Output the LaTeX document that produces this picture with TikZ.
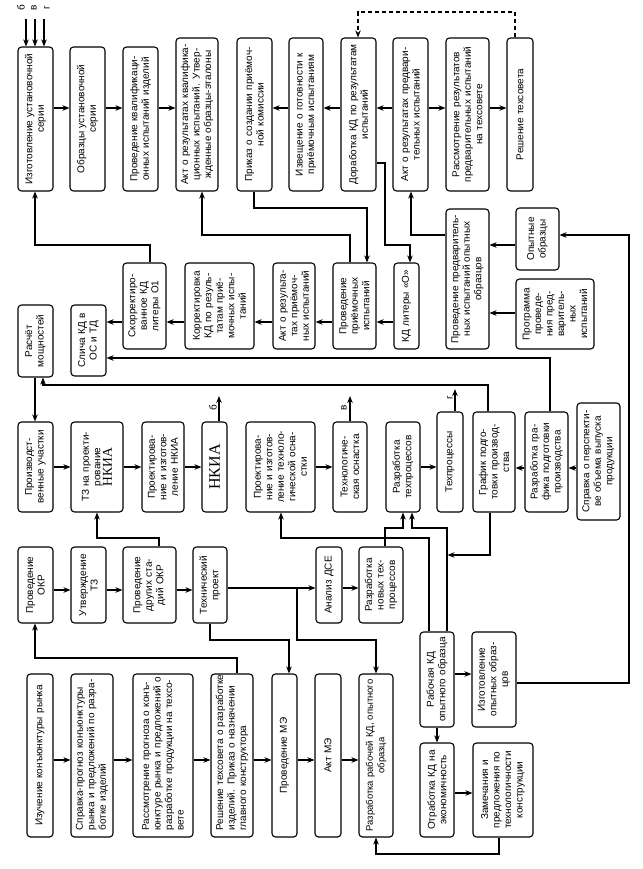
\documentclass[tikz,border=0pt]{standalone}
\usepackage{fontspec}
\setmainfont{Liberation Sans}
\newfontfamily\serifnk{Liberation Serif}
\usetikzlibrary{arrows.meta}
\begin{document}
\begin{tikzpicture}[x=1pt,y=-1pt,
  box/.style={draw, line width=1.1pt, rounded corners=3.5pt, rotate=90, align=center, inner sep=1pt, font=\fontsize{10}{11.5}\selectfont},
  arr/.style={line width=1.1pt, -{Stealth[length=7pt,width=5.5pt]}},
  dsh/.style={dash pattern=on 4pt off 3pt},
  lbl/.style={rotate=90, inner sep=0pt, font=\fontsize{10}{11}\selectfont}]
\useasboundingbox[fill=white] (0,0) rectangle (642,869);

% ---- top row
\node[box, minimum width=144pt, minimum height=35pt, text width=138pt] (n1) at (35.5,119) {Изготовление установочной\\серии};
\node[box, minimum width=144pt, minimum height=35pt, text width=138pt] (n2) at (87.5,119) {Образцы установочной\\серии};
\node[box, minimum width=144pt, minimum height=35pt, text width=138pt] (n3) at (140.5,119) {Проведение квалификаци-\\онных испытаний изделий};
\node[box, minimum width=153pt, minimum height=42pt, text width=147pt] (n4) at (197,114.5) {Акт о результатах квалифика-\\ционных испытаний. Утвер-\\жденные образцы-эталоны};
\node[box, minimum width=153pt, minimum height=35pt, text width=147pt] (n5) at (254.5,114.5) {Приказ о создании приёмоч-\\ной комиссии};
\node[box, minimum width=153pt, minimum height=34pt, text width=147pt] (n6) at (306,114.5) {Извещение о готовности к\\приёмочным испытаниям};
\node[box, minimum width=153pt, minimum height=35pt, text width=147pt] (n7) at (358.5,114.5) {Доработка КД по результатам\\испытаний};
\node[box, minimum width=153pt, minimum height=35pt, text width=147pt] (n8) at (410.5,114.5) {Акт о результатах предвари-\\тельных испытаний};
\node[box, minimum width=153pt, minimum height=43pt, text width=147pt] (n9) at (467.5,114.5) {Рассмотрение результатов\\предварительных испытаний\\на техсовете};
\node[box, minimum width=153pt, minimum height=26pt, text width=147pt] (n10) at (520,114.5) {Решение техсовета};

% ---- second band
\node[box, minimum width=86pt, minimum height=43pt, text width=80pt] (m1) at (144.5,306) {Скорректиро-\\ванное КД\\литеры О1};
\node[box, minimum width=86pt, minimum height=69pt, text width=80pt] (m2) at (219.5,306) {Корректировка\\КД по резуль-\\татам приё-\\мочных испы-\\таний};
\node[box, minimum width=86pt, minimum height=42pt, text width=80pt] (m3) at (294,306) {Акт о результа-\\тах приёмоч-\\ных испытаний};
\node[box, minimum width=86pt, minimum height=43pt, text width=80pt] (m4) at (354.5,306) {Проведение\\приёмочных\\испытаний};
\node[box, minimum width=86pt, minimum height=25pt, text width=80pt] (m5) at (406.5,306) {КД литеры «О»};
\node[box, minimum width=140pt, minimum height=43pt, text width=134pt] (m6) at (467.5,279) {Проведение предваритель-\\ных испытаний опытных\\образцов};
\node[box, minimum width=62pt, minimum height=43pt, text width=56pt] (m7) at (537.5,239) {Опытные\\образцы};
\node[box, minimum width=70pt, minimum height=78pt, text width=64pt] (m8) at (555,314) {Программа\\проведе-\\ния пред-\\варитель-\\ных\\испытаний};

\node[box, minimum width=72pt, minimum height=35pt, text width=66pt] (r0) at (35.5,341) {Расчёт\\мощностей};
\node[box, minimum width=71pt, minimum height=35pt, text width=65pt] (r1) at (88.5,340.5) {Слича КД в\\ОС и ТД};

% ---- third band
\node[box, minimum width=90pt, minimum height=35pt, text width=84pt] (p1) at (35.5,467) {Производст-\\венные участки};
\node[box, minimum width=90pt, minimum height=52pt, text width=84pt] (p2) at (97,467) {ТЗ на проекти-\\рование\\{\serifnk\fontsize{13.5}{14}\selectfont НКИА}};
\node[box, minimum width=90pt, minimum height=42pt, text width=84pt] (p3) at (163,467) {Проектирова-\\ние и изготов-\\ление НКИА};
\node[box, minimum width=90pt, minimum height=25pt, text width=84pt, font=\serifnk\fontsize{16}{17}\selectfont] (p4) at (214.5,467) {НКИА};
\node[box, minimum width=90pt, minimum height=69pt, text width=84pt] (p5) at (280.5,467) {Проектирова-\\ние и изготов-\\ление техноло-\\гической осна-\\стки};
\node[box, minimum width=90pt, minimum height=34pt, text width=84pt] (p6) at (350,467) {Технологиче-\\ская оснастка};
\node[box, minimum width=90pt, minimum height=34pt, text width=84pt] (p7) at (403,467) {Разработка\\техпроцессов};
\node[box, minimum width=100pt, minimum height=26pt, text width=94pt] (p8) at (450,462) {Техпроцессы};
\node[box, minimum width=100pt, minimum height=42pt, text width=94pt] (p9) at (494,462) {График подго-\\товки производ-\\ства};
\node[box, minimum width=100pt, minimum height=43pt, text width=94pt] (p10) at (546.5,462) {Разработка гра-\\фика подготовки\\производства};
\node[box, minimum width=117pt, minimum height=43pt, text width=111pt] (p11) at (598.5,461.5) {Справка о перспекти-\\ве объема выпуска\\продукции};

% ---- fourth band
\node[box, minimum width=76pt, minimum height=35pt, text width=70pt] (q1) at (35.5,585) {Проведение\\ОКР};
\node[box, minimum width=76pt, minimum height=35pt, text width=70pt] (q2) at (88.5,585) {Утверждение\\ТЗ};
\node[box, minimum width=76pt, minimum height=53pt, text width=70pt] (q3) at (149.5,585) {Проведение\\других ста-\\дий ОКР};
\node[box, minimum width=76pt, minimum height=34pt, text width=70pt] (q4) at (210,585) {Технический\\проект};
\node[box, minimum width=76pt, minimum height=26pt, text width=70pt] (q5) at (329,585) {Анализ ДСЕ};
\node[box, minimum width=76pt, minimum height=44pt, text width=70pt] (q6) at (381,585) {Разработка\\новых тех-\\процессов};

\node[box, minimum width=95pt, minimum height=34pt, text width=89pt] (s1) at (437,679.5) {Рабочая КД\\опытного образца};
\node[box, minimum width=95pt, minimum height=44pt, text width=89pt] (s2) at (494,679.5) {Изготовление\\опытных образ-\\цов};
\node[box, minimum width=94pt, minimum height=34pt, text width=88pt] (s3) at (437,790) {Отработка КД на\\экономичность};
\node[box, minimum width=94pt, minimum height=60pt, text width=88pt] (s4) at (503,790) {Замечания и\\предложения по\\технологичности\\конструкции};

% ---- bottom band
\node[box, minimum width=163pt, minimum height=26pt, text width=155pt] (t1) at (40,755.5) {Изучение конъюнктуры рынка};
\node[box, minimum width=163pt, minimum height=42pt, text width=150pt] (t2) at (92,755.5) {\makebox[150pt][s]{Справка-прогноз конъюнктуры}\\\makebox[150pt][s]{рынка и предложений по разра-}\\\makebox[150pt][l]{ботке изделий}};
\node[box, minimum width=163pt, minimum height=60pt, text width=150pt] (t3) at (163,755.5) {\makebox[150pt][s]{Рассмотрение прогноза о конъ-}\\\makebox[150pt][s]{юнктуре рынка и предложений о}\\\makebox[150pt][s]{разработке продукции на техсо-}\\\makebox[150pt][l]{вете}};
\node[box, minimum width=163pt, minimum height=42pt, text width=150pt] (t4) at (232,755.5) {\makebox[150pt][s]{Решение техсовета о разработке}\\\makebox[150pt][s]{изделий. Приказ о назначении}\\\makebox[150pt][l]{главного конструктора}};
\node[box, minimum width=163pt, minimum height=25pt, text width=155pt] (t5) at (284.5,755.5) {Проведение МЭ};
\node[box, minimum width=163pt, minimum height=26pt, text width=155pt] (t6) at (328,755.5) {Акт МЭ};
\node[box, minimum width=163pt, minimum height=34pt, text width=158pt, font=\fontsize{9.5}{11.5}\selectfont] (t7) at (376,755.5) {Разработка рабочей КД, опытного\\образца};

% ---- labels б в г
\coordinate (ia) at (26,19);
\coordinate (ib) at (35,19);
\coordinate (ic) at (44,19);
\node[lbl] (la) at (21,8) {б};
\node[lbl] (lb) at (34,8) {в};
\node[lbl] (lc) at (47,8) {г};
\draw[arr] (ia) -- (n1.east -| 26,0);
\draw[arr] (ib) -- (n1.east -| 35,0);
\draw[arr] (ic) -- (n1.east -| 44,0);

\coordinate (ob) at (219,396);
\coordinate (ov) at (350,396);
\coordinate (og) at (455,389);
\node[lbl] (lob) at (213,408) {б};
\node[lbl] (lov) at (344,408) {в};
\node[lbl] (log) at (450,398) {г};
\draw[arr] (p4.east -| 219,0) -- (ob);
\draw[arr] (p6.east -| 350,0) -- (ov);
\draw[arr] (p8.east -| 455,0) -- (og);

% ---- top row connectors
\draw[arr] (n1.south |- 0,108) -- (n2.north |- 0,108);
\draw[arr] (n2.south |- 0,108) -- (n3.north |- 0,108);
\draw[arr] (n3.south |- 0,108) -- (n4.north |- 0,108);
\draw[arr] (n8.south |- 0,108) -- (n9.north |- 0,108);
\draw[arr] (n9.south |- 0,108) -- (n10.north |- 0,108);
\draw[arr] (n8.north |- 0,108) -- (n7.south |- 0,108);
\draw[arr] (n7.north |- 0,108) -- (n6.south |- 0,108);
\draw[arr] (n6.north |- 0,108) -- (n5.south |- 0,108);
\draw[arr, dsh] (n10.east -| 515,0) -- (515,12) -- (358,12) -- (n7.east -| 358,0);

\draw[arr] (n7.south |- 0,163) -- (385,163) -- (385,245) -- (410,245) -- (m5.east -| 410,0);
\draw[arr] (m6.north |- 0,235) -- (411,235) -- (n8.west -| 411,0);
\draw[arr] (n5.west -| 254,0) -- (254,208) -- (367,208) -- (m4.east -| 367,0);
\draw[arr] (m4.east -| 350,0) -- (350,235) -- (202,235) -- (n4.west -| 202,0);
\draw[arr] (m1.east -| 150,0) -- (150,245) -- (35,245) -- (n1.west -| 35,0);

% ---- second band connectors
\draw[arr] (m5.north |- 0,322) -- (m4.south |- 0,322);
\draw[arr] (m4.north |- 0,322) -- (m3.south |- 0,322);
\draw[arr] (m3.north |- 0,322) -- (m2.south |- 0,322);
\draw[arr] (m2.north |- 0,322) -- (m1.south |- 0,322);
\draw[arr] (m1.north |- 0,322) -- (r1.south |- 0,322);
\draw[arr] (m7.north |- 0,245) -- (m6.south |- 0,245);
\draw[arr] (m8.north |- 0,313) -- (m6.south |- 0,313);
\draw[arr] (s2.south |- 0,683) -- (629,683) -- (629,235) -- (m7.south |- 0,235);
\draw[arr] (p10.east -| 550,0) -- (550,358) -- (r1.south |- 0,358);
\draw[arr] (p9.east -| 488,0) -- (488,385) -- (43,385) -- (r0.west -| 43,0);
\draw[arr] (r0.west -| 35,0) -- (p1.east -| 35,0);

% ---- third band connectors
\draw[arr] (p1.south |- 0,467) -- (p2.north |- 0,467);
\draw[arr] (p2.south |- 0,467) -- (p3.north |- 0,467);
\draw[arr] (p3.south |- 0,467) -- (p4.north |- 0,467);
\draw[arr] (p5.south |- 0,467) -- (p6.north |- 0,467);
\draw[arr] (p7.south |- 0,467) -- (p8.north |- 0,467);
\draw[arr] (p11.north |- 0,468) -- (p10.south |- 0,468);
\draw[arr] (p10.north |- 0,468) -- (p9.south |- 0,468);

% ---- fourth band connectors
\draw[arr] (q3.east -| 159,0) -- (159,538) -- (97,538) -- (p2.west -| 97,0);
\draw[arr] (q1.south |- 0,590) -- (q2.north |- 0,590);
\draw[arr] (q2.south |- 0,590) -- (q3.north |- 0,590);
\draw[arr] (q3.south |- 0,590) -- (q4.north |- 0,590);
\draw[arr] (q4.south |- 0,588) -- (q5.north |- 0,588);
\draw[arr] (q5.south |- 0,588) -- (q6.north |- 0,588);
\coordinate (j1) at (297,588);
\draw[arr] (j1) -- (297,640) -- (376,640) -- (t7.east -| 376,0);
\draw[arr] (q4.west -| 210,0) -- (210,640) -- (289,640) -- (t5.east -| 289,0);
\draw[arr] (t4.east -| 237,0) -- (237,658) -- (35,658) -- (q1.west -| 35,0);
\draw[arr] (q6.east -| 385,0) -- (385,528) -- (403,528) -- (p7.west -| 403,0);
\draw[arr] (s1.east -| 447,0) -- (447,528) -- (412,528) -- (p7.west -| 412,0);
\draw[arr] (s1.east -| 429,0) -- (429,538) -- (281,538) -- (p5.west -| 281,0);
\coordinate (j2) at (447.5,555);
\draw[arr] (p9.west -| 490,0) -- (490,555) -- (j2);

% ---- fifth band connectors
\draw[arr] (s1.south |- 0,674) -- (s2.north |- 0,674);
\draw[arr] (s1.west) -- (s3.east);
\draw[arr] (s3.south |- 0,793) -- (s4.north |- 0,793);
\draw[arr] (s4.west -| 499,0) -- (499,854) -- (376,854) -- (t7.west -| 376,0);

% ---- bottom band connectors
\draw[arr] (t1.south |- 0,760) -- (t2.north |- 0,760);
\draw[arr] (t2.south |- 0,760) -- (t3.north |- 0,760);
\draw[arr] (t3.south |- 0,760) -- (t4.north |- 0,760);
\draw[arr] (t4.south |- 0,760) -- (t5.north |- 0,760);
\draw[arr] (t5.south |- 0,760) -- (t6.north |- 0,760);
\draw[arr] (t6.south |- 0,760) -- (t7.north |- 0,760);
\end{tikzpicture}
\end{document}
